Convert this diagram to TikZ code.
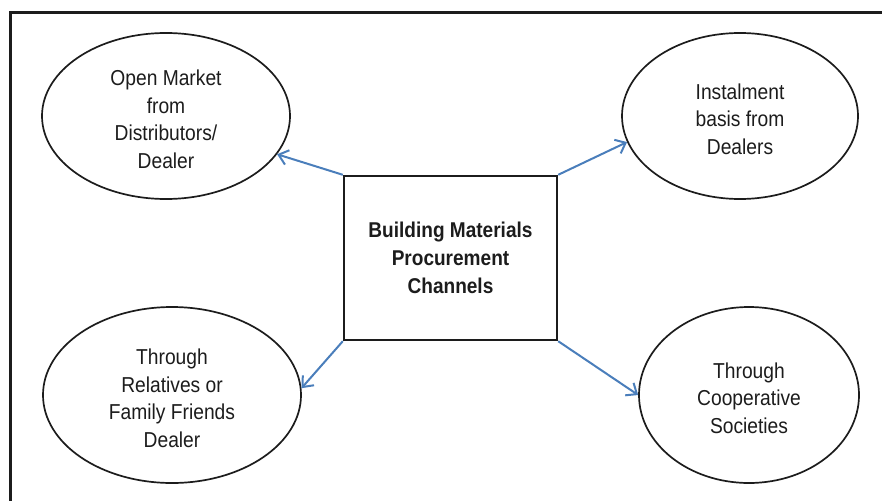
\documentclass[tikz,border=0pt]{standalone}
\usepackage{fontspec}
\setmainfont[FakeStretch=0.89]{Liberation Sans}
\usetikzlibrary{shapes.geometric,arrows.meta}
\definecolor{arrowblue}{RGB}{74,126,187}
\definecolor{inkgray}{RGB}{28,28,28}
\begin{document}
\begin{tikzpicture}[x=1pt,y=-1pt,
  oval/.style={ellipse, draw=inkgray, line width=1.7pt, inner sep=0pt, align=center,
    font=\fontsize{21.6}{27.7}\selectfont, text=inkgray},
  hub/.style={rectangle, draw=inkgray, line width=2.4pt, inner sep=0pt,
    minimum width=213pt, minimum height=164pt, align=center,
    font=\bfseries\fontsize{21.4}{27.7}\selectfont, text=inkgray},
  link/.style={draw=arrowblue, line width=2pt, -{Straight Barb[length=9pt,width=15pt]}},
  frame/.style={draw=inkgray, line width=3.3pt}]
\useasboundingbox (0,0) rectangle (882,500);
\clip (0,0) rectangle (882,500);
\draw[frame] (10.7,12.5) rectangle (905,525);

\node[hub] (hubbox) at (450.5,258) {Building Materials\\Procurement\\Channels};

\node[oval, minimum width=248pt, minimum height=166pt] (tl) at (166,116)
  {\rule{0pt}{22pt}Open Market\\from\\Distributors/\\Dealer};
\node[oval, minimum width=236pt, minimum height=166pt] (tr) at (740,116)
  {\rule{0pt}{22pt}Instalment\\basis from\\Dealers};
\node[oval, minimum width=258pt, minimum height=176pt] (bl) at (172,395)
  {\rule{0pt}{22pt}Through\\Relatives or\\Family Friends\\Dealer};
\node[oval, minimum width=220pt, minimum height=176pt] (br) at (749,395)
  {\rule{0pt}{22pt}Through\\Cooperative\\Societies};

\draw[link] (hubbox.north west) -- (tl.-19);
\draw[link] (hubbox.north east) -- (tr.193);
\draw[link] (hubbox.south west) -- (bl.3);
\draw[link] (hubbox.south east) -- (br.west);
\end{tikzpicture}
\end{document}
